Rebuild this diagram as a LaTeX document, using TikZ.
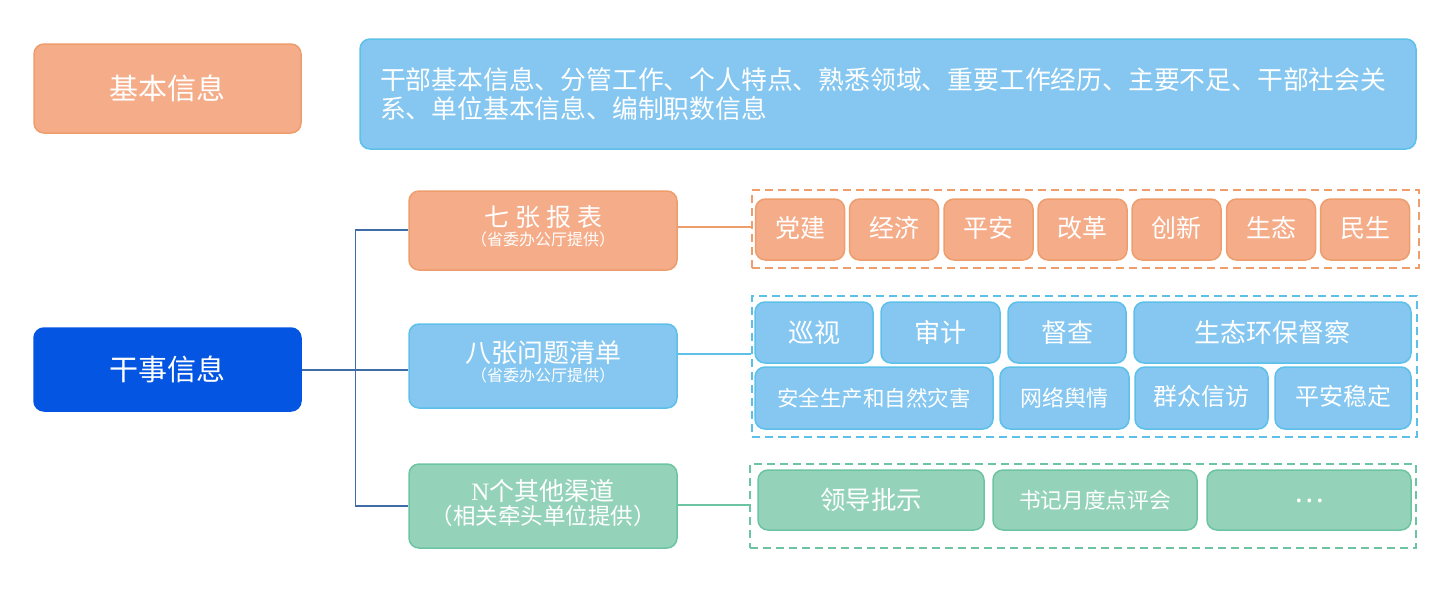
\documentclass[tikz,border=0pt]{standalone}
\usepackage{fontspec}
\setmainfont{Noto Sans CJK SC}
\newfontfamily\latinserif{Liberation Serif}
\definecolor{ofill}{HTML}{F5AC89}
\definecolor{oline}{HTML}{EE9D6C}
\definecolor{bfill}{HTML}{85C7F0}
\definecolor{bline}{HTML}{5DC0E9}
\definecolor{gfill}{HTML}{94D3BA}
\definecolor{gline}{HTML}{6CC4A2}
\definecolor{dblue}{HTML}{0455E2}
\definecolor{conn}{HTML}{3F6DA8}
\tikzset{
  box/.style={rounded corners=10pt, line width=1.5pt, text=white, inner sep=0pt, align=center},
  obox/.style={box, fill=ofill, draw=oline},
  bbox/.style={box, fill=bfill, draw=bline},
  gbox/.style={box, fill=gfill, draw=gline},
  dbox/.style={box, fill=dblue, draw=dblue},
  lbl/.style={text=white, inner sep=0pt, font=\fontsize{#1}{#1}\selectfont},
  dashbox/.style={draw, dash pattern=on 8pt off 5pt, line width=1.8pt, inner sep=0pt},
  f/.style={font=\fontsize{#1}{#1}\selectfont},
}
\begin{document}
\begin{tikzpicture}[x=1pt,y=-1pt]
\useasboundingbox (0,0) rectangle (1452,606);
% top row
\node[obox, minimum width=267pt, minimum height=89pt, f=29] (jb) at (167.5,88.5) {基本信息};
\node[bbox, minimum width=1056pt, minimum height=110pt, align=left, text width=1016pt, font=\fontsize{25.8}{29}\selectfont] (top) at (888,94)
  {干部基本信息、分管工作、个人特点、熟悉领域、重要工作经历、主要不足、干部社会关\\系、单位基本信息、编制职数信息};
% left
\node[dbox, minimum width=267pt, minimum height=83pt, f=29] (gs) at (167.5,369.5) {干事信息};
% middle
\node[obox, minimum width=268pt, minimum height=79pt] (qz) at (543,230.5) {};
\node[lbl=25] (qzt) at (543,217.5) {七\hspace{6pt}张\hspace{6pt}报\hspace{6pt}表};
\node[lbl=16] (qzs) at (543,239.5) {（省委办公厅提供）};
\node[bbox, minimum width=268pt, minimum height=84pt] (bz) at (543,366) {};
\node[lbl=26] (bzt) at (543,353) {八张问题清单};
\node[lbl=16] (bzs) at (543,375) {（省委办公厅提供）};
\node[gbox, minimum width=268pt, minimum height=84pt] (nz) at (543,506) {};
\node[lbl=25] (nzt) at (543,490.5) {{\latinserif N}个其他渠道};
\node[lbl=22.5] (nzs) at (543,516) {（相关牵头单位提供）};
% dashed groups
\node[dashbox, draw=oline, minimum width=667pt, minimum height=78pt] (od) at (1085.5,229) {};
\node[dashbox, draw=bline, minimum width=665pt, minimum height=141pt] (bd) at (1084.5,366.5) {};
\node[dashbox, draw=gline, minimum width=666pt, minimum height=84pt] (gd) at (1083,506) {};
% orange items
\foreach \i/\x/\t in {o1/800/党建,o2/894/经济,o3/988.5/平安,o4/1082.5/改革,o5/1176.5/创新,o6/1271/生态,o7/1365/民生}{
  \node[obox, minimum width=89pt, minimum height=61pt, f=25] (\i) at (\x,229.5) {\raisebox{5pt}{\t}};
}
% blue items row 1
\node[bbox, minimum width=118pt, minimum height=61pt, f=26] (b1) at (814,332.5) {巡视};
\node[bbox, minimum width=119pt, minimum height=61pt, f=26] (b2) at (940.5,332.5) {审计};
\node[bbox, minimum width=118pt, minimum height=61pt, f=26] (b3) at (1067,332.5) {督查};
\node[bbox, minimum width=277pt, minimum height=61pt, f=26] (b4) at (1272.5,332.5) {生态环保督察};
% blue items row 2
\node[bbox, minimum width=238pt, minimum height=62pt, f=21.5] (b5) at (874,398) {安全生产和自然灾害};
\node[bbox, minimum width=129pt, minimum height=62pt, f=22] (b6) at (1064.5,398) {网络舆情};
\node[bbox, minimum width=133pt, minimum height=62pt, f=24] (b7) at (1201.5,398) {\raisebox{6pt}{群众信访}};
\node[bbox, minimum width=136pt, minimum height=62pt, f=24] (b8) at (1343,398) {\raisebox{6pt}{平安稳定}};
% green items
\node[gbox, minimum width=226pt, minimum height=60pt, f=25.5] (g1) at (871,500) {领导批示};
\node[gbox, minimum width=204pt, minimum height=60pt, f=21.7] (g2) at (1095,500) {书记月度点评会};
\node[gbox, minimum width=204pt, minimum height=60pt, f=28] (g3) at (1309,500) {\raisebox{-5pt}{…}};
% connectors
\coordinate (vx) at (355.5,0);
\draw[conn, line width=1.8pt] (gs.east |- 0,370) -- (bz.west |- 0,370);
\draw[conn, line width=1.8pt] (qz.west |- 0,230) -- (vx |- 0,230) -- (vx |- 0,506) -- (nz.west |- 0,506);
\draw[oline, line width=1.5pt] (qz.east |- 0,227) -- (od.west |- 0,227);
\draw[bline, line width=1.5pt] (bz.east |- 0,354) -- (bd.west |- 0,354);
\draw[gline, line width=1.5pt] (nz.east |- 0,505) -- (gd.west |- 0,505);
\end{tikzpicture}
\end{document}
